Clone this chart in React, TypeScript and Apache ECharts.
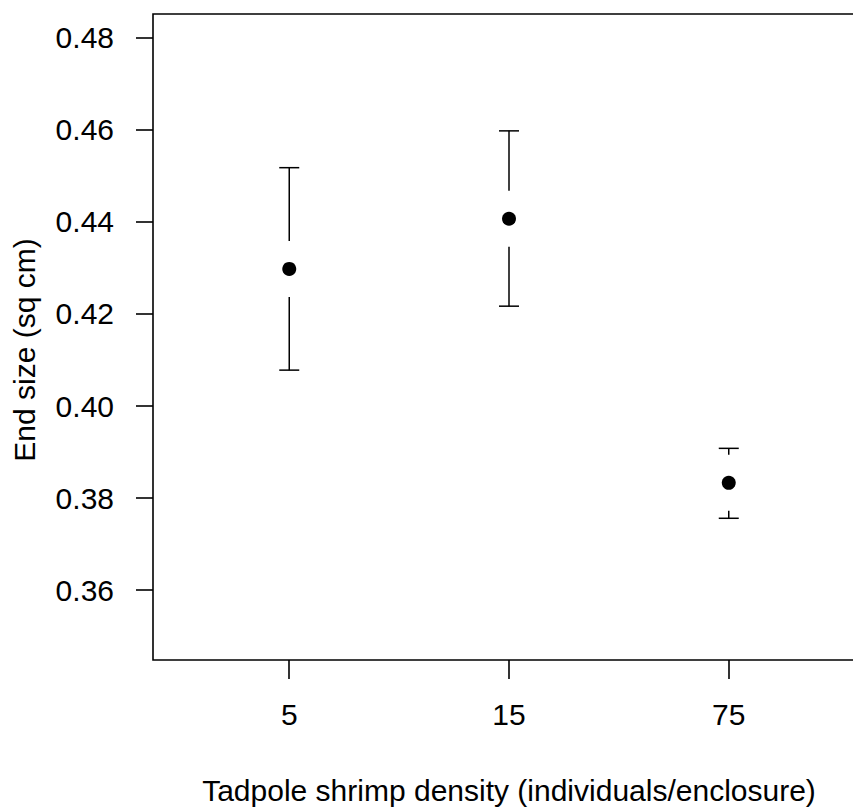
import React, { useEffect, useRef } from "react";
import * as echarts from "echarts";

const categories = ["5", "15", "75"];
const positions = [1, 2, 3];
const means = [0.4298, 0.4407, 0.3833];
const lower = [0.4078, 0.4217, 0.3756];
const upper = [0.4518, 0.4598, 0.3908];
const yTicks = [0.36, 0.38, 0.4, 0.42, 0.44, 0.46, 0.48];
const xTitle = "Tadpole shrimp density (individuals/enclosure)";
const yTitle = "End size (sq cm)";

const FONT = "'Liberation Sans', Arial, Helvetica, sans-serif";
const INK = "#000";
const FS = 30;

export default function App() {
  const ref = useRef<HTMLDivElement>(null);
  useEffect(() => {
    if (!ref.current) return;
    const chart = echarts.init(ref.current, undefined, { renderer: "svg" });
    const gap = 28;
    const cap = 10;
    const option: any = {
      animation: false,
      backgroundColor: "#fff",
      grid: {
        left: 153,
        top: 14,
        width: 712,
        height: 646,
        outerBoundsMode: "none",
        containLabel: false,
        show: true,
        borderColor: INK,
        borderWidth: 1.6,
        backgroundColor: "transparent",
      },
      graphic: [
        {
          type: "text",
          x: 24,
          y: 350,
          rotation: Math.PI / 2,
          style: {
            text: yTitle,
            fontSize: FS,
            fontFamily: FONT,
            fill: INK,
            align: "center",
            verticalAlign: "middle",
          },
        },
      ],
      xAxis: {
        type: "value",
        min: 0.38,
        max: 3.62,
        name: xTitle,
        nameLocation: "middle",
        nameGap: 115,
        nameTextStyle: { fontSize: FS, color: INK, fontFamily: FONT },
        axisLine: { show: false },
        splitLine: { show: false },
        axisTick: {
          show: true,
          length: 19,
          customValues: positions,
          lineStyle: { color: INK, width: 1.6 },
        },
        axisLabel: {
          customValues: positions,
          margin: 39,
          fontSize: FS,
          color: INK,
          fontFamily: FONT,
          formatter: (v: number) => categories[positions.indexOf(Math.round(v))] ?? "",
        },
      },
      yAxis: {
        type: "value",
        min: 0.3448,
        max: 0.4852,
        axisLine: { show: false },
        splitLine: { show: false },
        axisTick: {
          show: true,
          length: 17,
          customValues: yTicks,
          lineStyle: { color: INK, width: 1.6 },
        },
        axisLabel: {
          customValues: yTicks,
          margin: 39,
          fontSize: FS,
          color: INK,
          fontFamily: FONT,
          formatter: (v: number) => v.toFixed(2),
        },
      },
      series: [
        {
          type: "custom",
          name: "error",
          data: positions.map((p, i) => [p, means[i], lower[i], upper[i]]),
          renderItem: (params: any, api: any) => {
            const x = api.value(0);
            const c = api.coord([x, api.value(1)]);
            const lo = api.coord([x, api.value(2)]);
            const hi = api.coord([x, api.value(3)]);
            const style = { stroke: INK, lineWidth: 1.5 };
            const children: any[] = [
              { type: "line", shape: { x1: hi[0] - cap, y1: hi[1], x2: hi[0] + cap, y2: hi[1] }, style },
              { type: "line", shape: { x1: lo[0] - cap, y1: lo[1], x2: lo[0] + cap, y2: lo[1] }, style },
            ];
            if (c[1] - gap > hi[1]) {
              children.push({ type: "line", shape: { x1: hi[0], y1: hi[1], x2: hi[0], y2: c[1] - gap }, style });
            }
            if (c[1] + gap < lo[1]) {
              children.push({ type: "line", shape: { x1: lo[0], y1: c[1] + gap, x2: lo[0], y2: lo[1] }, style });
            }
            return { type: "group", children };
          },
          silent: true,
        },
        {
          type: "scatter",
          name: "mean",
          data: positions.map((p, i) => [p, means[i]]),
          symbol: "circle",
          symbolSize: 14,
          itemStyle: { color: "#000", opacity: 1 },
        },
      ],
    };
    chart.setOption(option);
    return () => chart.dispose();
  }, []);
  return (
    <div
      ref={ref}
      style={{ position: "fixed", left: 0, top: 0, width: 853, height: 808, background: "#fff" }}
    />
  );
}
